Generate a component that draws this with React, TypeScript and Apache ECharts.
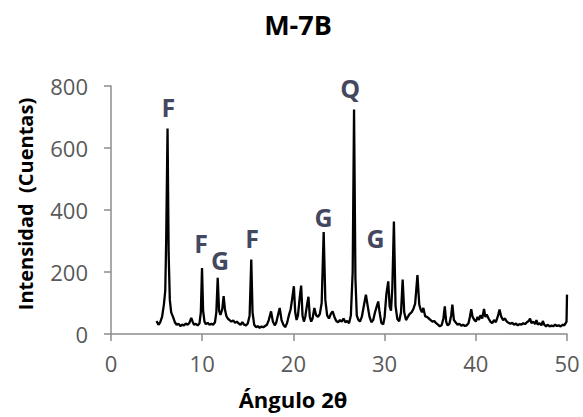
import React, { useEffect, useRef } from "react";
import * as echarts from "echarts";

const chartTitle = "M-7B";
const xAxisTitle = "Ángulo 2θ";
const yAxisTitle = "Intensidad  (Cuentas)";

const xTicks = { min: 0, max: 50, interval: 10 };
const yTicks = { min: 0, max: 800, interval: 200 };

const angles = [
  5.0, 5.2, 5.4, 5.6, 5.8, 5.95, 6.05, 6.2, 6.32, 6.45, 6.6, 6.8, 7.0, 7.2, 7.4, 7.6, 7.8, 8.0, 8.2, 8.4,
  8.6, 8.8, 8.95, 9.1, 9.3, 9.5, 9.7, 9.85, 9.98, 10.1, 10.25, 10.4, 10.6, 10.8, 11.0, 11.2, 11.4, 11.55, 11.7, 11.85,
  12.0, 12.2, 12.35, 12.5, 12.65, 12.8, 13.0, 13.2, 13.4, 13.6, 13.8, 14.0, 14.2, 14.4, 14.6, 14.8, 15.0, 15.2, 15.38, 15.52,
  15.7, 15.9, 16.1, 16.3, 16.5, 16.7, 16.9, 17.1, 17.3, 17.55, 17.75, 17.95, 18.1, 18.3, 18.5, 18.7, 18.9, 19.1, 19.3, 19.5,
  19.7, 19.85, 20.05, 20.2, 20.35, 20.5, 20.7, 20.85, 21.0, 21.15, 21.3, 21.5, 21.65, 21.8, 21.95, 22.1, 22.3, 22.5, 22.7, 22.9,
  23.1, 23.32, 23.5, 23.7, 23.9, 24.1, 24.3, 24.5, 24.7, 24.9, 25.1, 25.3, 25.5, 25.7, 25.9, 26.1, 26.3, 26.5, 26.65, 26.8,
  26.95, 27.1, 27.3, 27.5, 27.75, 27.95, 28.15, 28.35, 28.55, 28.75, 28.95, 29.15, 29.3, 29.45, 29.65, 29.85, 30.0, 30.2, 30.4, 30.55,
  30.7, 30.85, 31.02, 31.2, 31.4, 31.6, 31.8, 31.98, 32.15, 32.35, 32.55, 32.75, 32.95, 33.15, 33.35, 33.6, 33.8, 33.95, 34.1, 34.25,
  34.45, 34.65, 34.85, 35.05, 35.25, 35.45, 35.65, 35.85, 36.05, 36.25, 36.45, 36.6, 36.75, 36.9, 37.1, 37.3, 37.43, 37.6, 37.8, 38.0,
  38.2, 38.4, 38.6, 38.8, 39.0, 39.2, 39.35, 39.5, 39.65, 39.85, 40.0, 40.2, 40.35, 40.5, 40.7, 40.9, 41.05, 41.2, 41.4, 41.6,
  41.8, 42.0, 42.2, 42.45, 42.6, 42.8, 43.0, 43.2, 43.4, 43.6, 43.8, 44.0, 44.2, 44.4, 44.6, 44.8, 45.0, 45.2, 45.4, 45.6,
  45.8, 45.95, 46.1, 46.3, 46.5, 46.65, 46.8, 47.0, 47.2, 47.35, 47.5, 47.7, 47.9, 48.1, 48.3, 48.5, 48.7, 48.9, 49.1, 49.3,
  49.5, 49.7, 49.85, 49.95, 50.0,
];

const counts = [
  42, 30, 38, 55, 95, 140, 300, 663, 260, 110, 70, 55, 38, 30, 33, 26, 30, 28, 34, 30,
  36, 52, 40, 30, 33, 28, 34, 70, 213, 75, 40, 32, 36, 30, 33, 30, 38, 70, 181, 75,
  62, 80, 122, 78, 58, 50, 45, 40, 44, 36, 40, 34, 30, 38, 30, 28, 34, 60, 240, 70,
  30, 22, 25, 20, 24, 22, 26, 30, 45, 73, 40, 28, 35, 60, 84, 45, 30, 22, 35, 60,
  80, 110, 154, 70, 45, 60, 120, 156, 60, 40, 55, 95, 120, 55, 40, 50, 84, 60, 55, 65,
  100, 329, 110, 60, 50, 65, 73, 55, 42, 38, 45, 40, 50, 38, 42, 35, 60, 200, 724, 180,
  60, 47, 40, 55, 95, 127, 90, 55, 38, 45, 70, 90, 105, 70, 35, 31, 55, 130, 170, 90,
  75, 150, 363, 90, 48, 41, 70, 176, 70, 45, 55, 65, 70, 80, 98, 190, 95, 79, 70, 84,
  57, 55, 50, 45, 40, 42, 35, 30, 25, 28, 50, 89, 40, 28, 32, 60, 95, 45, 37, 30,
  33, 27, 30, 26, 28, 35, 55, 80, 55, 45, 40, 55, 45, 60, 50, 81, 55, 63, 50, 40,
  35, 45, 38, 60, 79, 55, 45, 50, 40, 36, 33, 36, 30, 34, 28, 32, 30, 35, 32, 38,
  42, 50, 35, 40, 32, 45, 30, 35, 28, 42, 30, 25, 30, 24, 27, 25, 30, 26, 28, 24,
  30, 28, 35, 40, 127,
];

// phase annotations
const peakLabels = ["F", "F", "G", "F", "G", "Q", "G"];
const peakLabelX = [6.3, 9.88, 11.96, 15.48, 23.3, 26.23, 29.0];
const peakLabelY = [732, 293, 240, 309, 379, 792, 309];

const FONT = "'Open Sans', 'DejaVu Sans', sans-serif";

export default function App() {
  const ref = useRef<HTMLDivElement>(null);

  useEffect(() => {
    document.body.style.margin = "0";
    if (!ref.current) return;
    const chart = echarts.init(ref.current, undefined, { renderer: "svg" });

    const lineData = angles.map((a, i) => [a, counts[i]]);
    const labelData = peakLabels.map((t, i) => ({ name: t, value: [peakLabelX[i], peakLabelY[i]] }));

    chart.setOption({
      animation: false,
      backgroundColor: "#ffffff",
      grid: { left: 111, right: 16, top: 86, bottom: 83, containLabel: false },
      xAxis: {
        type: "value",
        min: xTicks.min,
        max: xTicks.max,
        interval: xTicks.interval,
        axisLine: { show: true, lineStyle: { color: "#8c8c8c", width: 1.5 } },
        axisTick: { show: true, length: 7, lineStyle: { color: "#8c8c8c", width: 1.5 } },
        axisLabel: { color: "#595959", fontSize: 22, fontFamily: FONT, margin: 18 },
        splitLine: { show: false },
      },
      yAxis: {
        type: "value",
        min: yTicks.min,
        max: yTicks.max,
        interval: yTicks.interval,
        axisLine: { show: true, lineStyle: { color: "#8c8c8c", width: 1.5 } },
        axisTick: { show: true, length: 7, lineStyle: { color: "#8c8c8c", width: 1.5 } },
        axisLabel: { color: "#595959", fontSize: 22, fontFamily: FONT, margin: 23 },
        splitLine: { show: false },
      },
      series: [
        {
          type: "line",
          data: lineData,
          showSymbol: false,
          symbol: "none",
          lineStyle: { color: "#000000", width: 2.3 },
          z: 3,
        },
        {
          type: "scatter",
          data: labelData,
          symbol: "circle",
          symbolSize: 2,
          itemStyle: { color: "rgba(255,255,255,0)" },
          label: {
            show: true,
            position: "inside",
            formatter: (p: any) => p.name,
            color: "#0f1433",
            fontSize: 25,
            fontWeight: "bold",
            fontFamily: FONT,
          },
          z: 4,
        },
      ],
      graphic: [
        {
          type: "text",
          x: 298,
          y: 24,
          style: {
            text: chartTitle,
            fontSize: 27,
            fontWeight: "bold",
            fontFamily: FONT,
            fill: "#000000",
            align: "center",
            verticalAlign: "middle",
          },
        },
        {
          type: "text",
          x: 293,
          y: 399,
          style: {
            text: xAxisTitle,
            fontSize: 22,
            fontWeight: "bold",
            fontFamily: FONT,
            fill: "#000000",
            align: "center",
            verticalAlign: "middle",
          },
        },
        {
          type: "text",
          x: 25,
          y: 204,
          rotation: Math.PI / 2,
          style: {
            text: yAxisTitle,
            fontSize: 20,
            fontWeight: "bold",
            fontFamily: FONT,
            fill: "#000000",
            align: "center",
            verticalAlign: "middle",
          },
        },
      ],
    });

    return () => {
      chart.dispose();
    };
  }, []);

  return <div ref={ref} style={{ width: 583, height: 417 }} />;
}
